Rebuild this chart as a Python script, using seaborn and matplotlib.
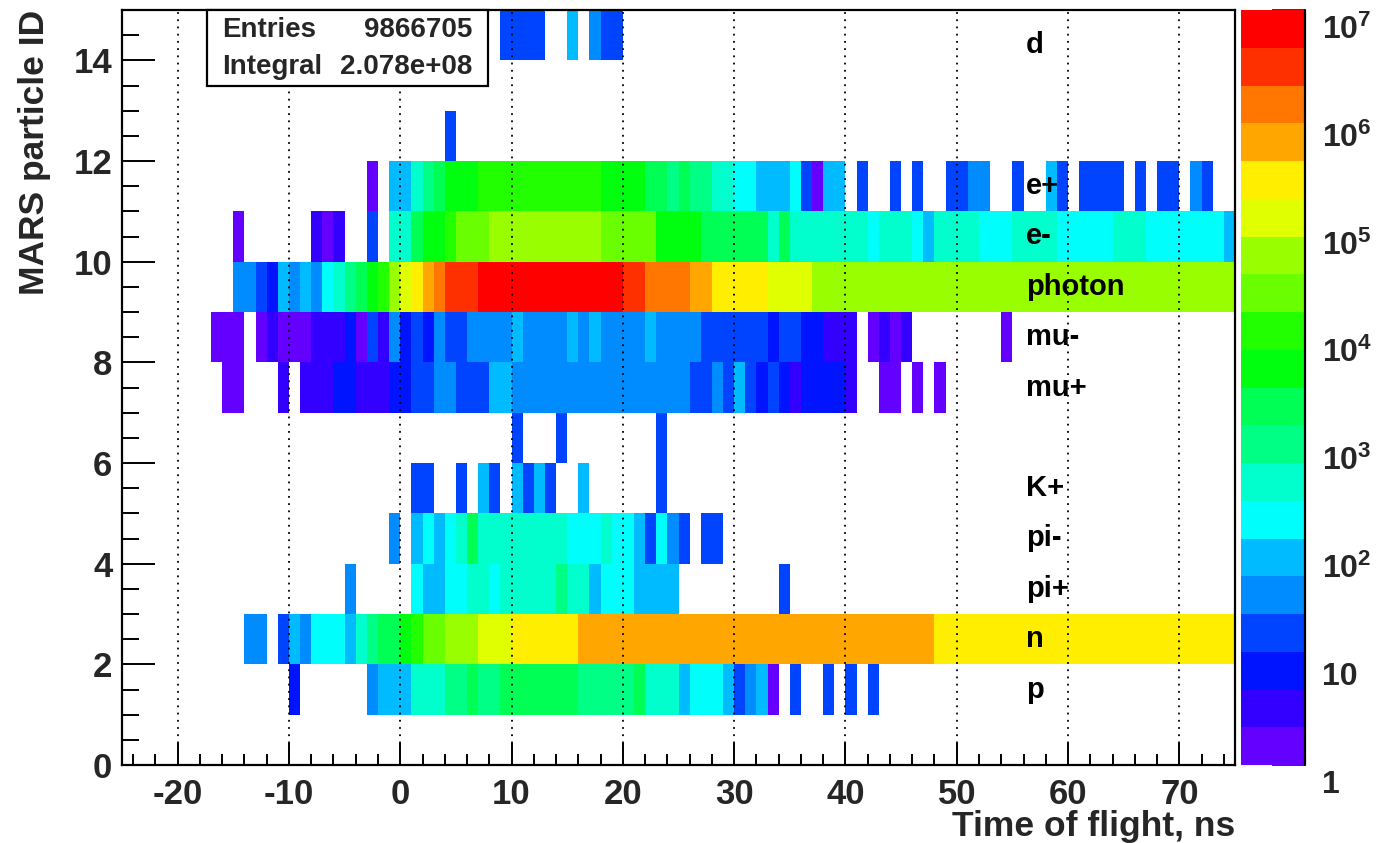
import colorsys
import numpy as np
import pandas as pd
import matplotlib
matplotlib.use("Agg")
import matplotlib.pyplot as plt
import matplotlib.transforms as mtransforms
from matplotlib.colors import ListedColormap, LogNorm
from matplotlib.ticker import FixedLocator, NullFormatter
from matplotlib.patches import Rectangle
from matplotlib.lines import Line2D
import seaborn as sns

# ---------------- data (counts per 1 ns time bin) ----------------
time_bin_edges_ns = (-25, 75)          # histogram x range, 1 ns bins
particle_id_range = (0, 15)            # histogram y range, 1 unit bins

# each row: first time bin (ns) and counts of consecutive 1-ns bins
d_start = 9
d_counts = [16, 16, 16, 16, 0, 0, 85, 0, 38, 16, 16]

id12_start = 4
id12_counts = [16]

e_plus_start = -3
e_plus_counts = ([1.5, 0, 85, 85, 420, 950, 2100, 4700, 4700, 4700]
                 + [10500] * 11
                 + [4700, 4700, 4700, 4700,
                    2100, 2100, 950, 2100, 950, 950, 420, 420, 190, 190,
                    85, 85, 85, 190, 16, 1.5, 85, 85, 0, 16,
                    0, 0, 16, 0, 16, 0, 0, 16, 16, 38,
                    38, 0, 0, 16, 0, 0, 85, 16, 0, 16,
                    16, 16, 16, 0, 16, 0, 16, 16, 0, 38,
                    16])

e_minus_start = -15
e_minus_counts = ([1.5, 0, 0, 0, 0, 0, 0, 3, 1.5, 3, 0, 0, 16, 0, 420, 420,
                   2100, 4700, 4700, 10500, 24000, 24000, 24000]
                  + [53000] * 10
                  + [24000] * 5
                  + [4700] * 4
                  + [2100] * 6
                  + [420, 2100] + [420] * 7
                  + [190, 420, 420, 420, 190, 85, 420, 420, 420, 420,
                     190, 190, 190, 420, 420, 420, 420,
                     190, 190, 190, 190, 190, 420, 420, 420]
                  + [190] * 7 + [85])

photon_start = -15
photon_counts = ([38, 38, 16, 7, 85, 38, 85, 38, 190, 420, 950, 2100, 4700,
                  10500, 53000, 120000, 270000, 600000, 1300000,
                  3000000, 3000000, 3000000]
                 + [6500000] * 13
                 + [3000000] * 2
                 + [1300000] * 4
                 + [600000] * 2
                 + [270000] * 5
                 + [120000] * 4
                 + [53000] * 38)

mu_minus_start = -17
mu_minus_counts = [1.5, 1.5, 1.5, 0, 1.5, 3, 1.5, 1.5, 1.5, 3, 3, 3, 7, 1.5,
                   16, 3, 38, 7, 16, 7, 38, 16, 16, 38, 38, 38, 38, 85,
                   38, 38, 38, 38, 85, 38, 85, 38, 38, 38, 38, 85,
                   38, 38, 38, 38, 16, 16, 16, 16, 16, 16, 7, 16, 16, 7, 7,
                   3, 3, 3, 0, 1.5, 3, 1.5, 3,
                   0, 0, 0, 0, 0, 0, 0, 0, 1.5]

mu_plus_start = -16
mu_plus_counts = ([1.5, 1.5, 0, 0, 0, 3, 0, 3, 3, 3, 7, 7, 3, 3, 3, 7, 7,
                   16, 16, 38, 38, 16, 16, 16, 85, 85]
                  + [38] * 16
                  + [16, 16, 38, 16, 85, 16, 7, 16, 7, 3, 7, 7, 7, 7, 3,
                     0, 0, 1.5, 1.5, 0, 1.5, 0, 1.5])

id6_start = 10
id6_counts = [16, 0, 0, 0, 16, 0, 0, 0, 0, 0, 0, 0, 0, 16]

k_plus_start = 1
k_plus_counts = [16, 16, 0, 0, 16, 0, 85, 16, 0, 85, 16, 85, 16, 0, 0, 85,
                 0, 0, 0, 0, 0, 0, 16]

pi_minus_start = -1
pi_minus_counts = ([38, 0, 85, 190, 85, 190, 420, 2100]
                   + [420] * 8
                   + [190, 190, 190, 420, 190, 190, 85, 16, 190, 38, 16, 0,
                      16, 16])

pi_plus_start = -5
pi_plus_counts = ([38, 0, 0, 0, 0, 0, 190, 85, 85, 190, 190, 420, 420, 190,
                   420, 420, 420, 420, 420, 950, 420, 420, 85, 190, 190, 190,
                   85, 85, 85, 85]
                  + [0] * 9 + [16])

n_start = -14
n_counts = ([38, 38, 0, 16, 85, 38, 190, 190, 190, 85, 420, 950, 2100, 2100,
             4700, 10500, 24000, 24000, 53000, 53000, 53000,
             120000, 120000, 120000]
            + [270000] * 6
            + [600000] * 32
            + [270000] * 27)

p_start = -10
p_counts = [7, 0, 0, 0, 0, 0, 0, 38, 85, 85, 85, 420, 420, 420, 950, 950,
            2100, 950, 950, 2100, 2100, 2100, 2100, 2100, 2100, 2100,
            950, 950, 950, 950, 950, 2100, 420, 420, 420, 85, 190, 190, 190,
            85, 16, 38, 85, 1.5, 0, 16, 0, 0, 16, 0, 16, 0, 16]

rows = {
    14: (d_start, d_counts),
    12: (id12_start, id12_counts),
    11: (e_plus_start, e_plus_counts),
    10: (e_minus_start, e_minus_counts),
    9: (photon_start, photon_counts),
    8: (mu_minus_start, mu_minus_counts),
    7: (mu_plus_start, mu_plus_counts),
    6: (id6_start, id6_counts),
    5: (k_plus_start, k_plus_counts),
    4: (pi_minus_start, pi_minus_counts),
    3: (pi_plus_start, pi_plus_counts),
    2: (n_start, n_counts),
    1: (p_start, p_counts),
}

particle_names = ["p", "n", "pi+", "pi-", "K+", "mu+", "mu-", "photon",
                  "e-", "e+", "d"]
particle_label_ids = [1.5, 2.5, 3.5, 4.5, 5.5, 7.5, 8.5, 9.5, 10.5, 11.5, 14.3]

x_major_ticks = [-20, -10, 0, 10, 20, 30, 40, 50, 60, 70]
y_major_ticks = [0, 2, 4, 6, 8, 10, 12, 14]
cbar_ticks = [1, 10, 100, 1e3, 1e4, 1e5, 1e6, 1e7]
cbar_ticklabels = ["1", "10", "$10^{2}$", "$10^{3}$", "$10^{4}$", "$10^{5}$",
                   "$10^{6}$", "$10^{7}$"]

stats_entries = "9866705"
stats_integral = "2.078e+08"

# ---------------- build the 2D histogram table ----------------
t0, t1 = time_bin_edges_ns
times = list(range(t0, t1))
ids = list(range(particle_id_range[0], particle_id_range[1]))
hist = pd.DataFrame(0.0, index=ids, columns=times)
for pid, (start, vals) in rows.items():
    for k, v in enumerate(vals):
        hist.loc[pid, start + k] = v

# ROOT "pretty" palette, 20 contour levels
ncont = 20
colors = []
for k in range(ncont):
    i = int((k + 0.99) * 50 / ncont)
    hue = 0.0 if i >= 49 else 280.0 - (i + 1) * 5.6
    colors.append(colorsys.hls_to_rgb(hue / 360.0, 0.5, 1.0))
cmap = ListedColormap(colors)

# ---------------- plotting ----------------
sns.set_theme(style="white")
plt.rcParams["font.family"] = ["Liberation Sans", "DejaVu Sans"]
plt.rcParams["font.weight"] = "bold"
plt.rcParams["mathtext.fontset"] = "custom"
plt.rcParams["mathtext.rm"] = "Liberation Sans:bold"
plt.rcParams["mathtext.it"] = "Liberation Sans:bold"
plt.rcParams["mathtext.bf"] = "Liberation Sans:bold"

W, H = 1378, 843
fig = plt.figure(figsize=(W / 100, H / 100), dpi=100)
fig.patch.set_facecolor("white")

def fx(px):
    return px / W

def fy(py):
    return 1 - py / H

L, R, T, B = 122, 1235, 10, 765
ax = fig.add_axes([fx(L), fy(B), fx(R - L), (B - T) / H])
cax = fig.add_axes([fx(1241), fy(B), fx(1305 - 1241), (B - T) / H])

sns.heatmap(hist, mask=hist <= 0, cmap=cmap, norm=LogNorm(vmin=1, vmax=1e7),
            ax=ax, cbar=True, cbar_ax=cax, xticklabels=False,
            yticklabels=False)

ax.set_xlim(0, len(times))
ax.set_ylim(0, len(ids))
ax.set_xlabel("")
ax.set_ylabel("")
for s in ax.spines.values():
    s.set_visible(True)
    s.set_color("black")
    s.set_linewidth(1.6)

# axis ticks (heatmap column c covers time t0+c .. t0+c+1)
ax.xaxis.set_major_locator(FixedLocator([t - t0 for t in x_major_ticks]))
ax.set_xticklabels([str(t) for t in x_major_ticks])
ax.xaxis.set_minor_locator(FixedLocator([t - t0 for t in range(-24, 76, 2)]))
ax.yaxis.set_major_locator(FixedLocator(y_major_ticks))
ax.set_yticklabels([str(v) for v in y_major_ticks])
ax.yaxis.set_minor_locator(FixedLocator(list(np.arange(0, 15.01, 0.5))))
ax.tick_params(axis="x", which="major", direction="in", length=16, width=1.4,
               labelsize=25, pad=9, bottom=True, top=False, color="black")
ax.tick_params(axis="x", which="minor", direction="in", length=8, width=1.4,
               bottom=True, top=False, color="black")
ax.tick_params(axis="y", which="major", direction="in", length=24, width=1.4,
               labelsize=25, pad=7, left=True, right=False, color="black")
ax.tick_params(axis="y", which="minor", direction="in", length=12, width=1.4,
               left=True, right=False, color="black")
for lab in ax.get_xticklabels() + ax.get_yticklabels():
    lab.set_fontweight("bold")

ax.set_axisbelow(False)
ax.grid(axis="x", which="major", color="black", linestyle=(0, (1, 3)),
        linewidth=1.3)
ax.grid(axis="y", visible=False)

# particle name labels
for name, yv in zip(particle_names, particle_label_ids):
    ax.text(56.2 - t0, yv, name, fontsize=21, fontweight="bold", ha="left",
            va="center", color="black")

# colour bar (palette axis)
cax.set_yscale("log")
cax.set_ylim(1, 1e7)
cax.yaxis.set_major_locator(FixedLocator(cbar_ticks))
cax.yaxis.set_minor_locator(FixedLocator(
    [m * 10 ** e for e in range(0, 7) for m in range(2, 10)]))
cax.yaxis.set_minor_formatter(NullFormatter())
cax.set_yticklabels(cbar_ticklabels)
cax.tick_params(axis="y", which="major", direction="in", length=24,
                width=1.3, labelsize=23, pad=12, right=True, left=False)
cax.tick_params(axis="y", which="minor", direction="in", length=12,
                width=1.3, right=True, left=False)
for lab in cax.get_yticklabels():
    lab.set_fontweight("bold")
    lab.set_transform(lab.get_transform() +
                      mtransforms.ScaledTranslation(0, -12 / 72,
                                                    fig.dpi_scale_trans))
cax.add_line(Line2D([1, 1], [0, 1], transform=cax.transAxes, color="black",
                    linewidth=1.6, clip_on=False))

# axis titles
fig.text(fx(35), fy(10), "MARS particle ID", rotation=90, ha="center",
         va="top", fontsize=25.5, fontweight="bold")
fig.text(fx(1235), fy(836), "Time of flight, ns", ha="right", va="baseline",
         fontsize=25.5, fontweight="bold")

# statistics box
fig.add_artist(Rectangle((fx(207), fy(86)), fx(488 - 207), (86 - 10) / H,
                         transform=fig.transFigure, facecolor="white",
                         edgecolor="black", linewidth=1.6, zorder=5))
fig.text(fx(222), fy(30), "Entries", ha="left", va="center", fontsize=20,
         fontweight="bold", zorder=6)
fig.text(fx(472), fy(30), stats_entries, ha="right", va="center",
         fontsize=20, fontweight="bold", zorder=6)
fig.text(fx(222), fy(67), "Integral", ha="left", va="center", fontsize=20,
         fontweight="bold", zorder=6)
fig.text(fx(472), fy(67), stats_integral, ha="right", va="center",
         fontsize=20, fontweight="bold", zorder=6)

fig.savefig("out.png", dpi=100, facecolor="white")
